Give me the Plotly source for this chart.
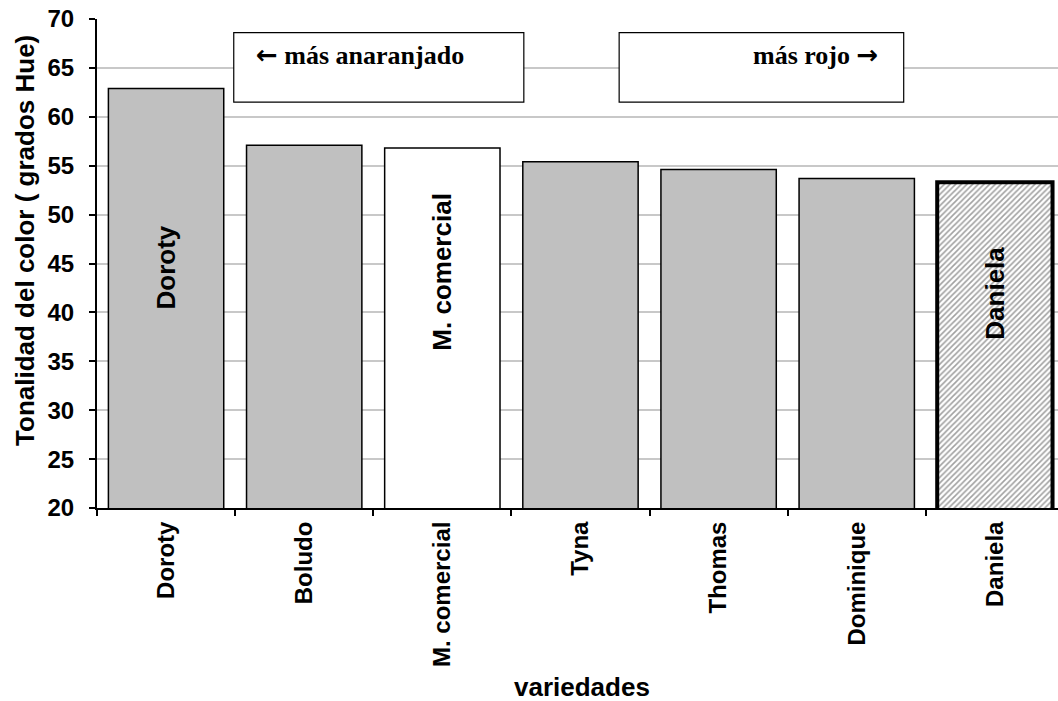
import plotly.graph_objects as go

categories = ["Doroty", "Boludo", "M. comercial", "Tyna", "Thomas", "Dominique", "Daniela"]
hue_values = [62.9, 57.1, 56.8, 55.4, 54.6, 53.7, 53.3]
inner_labels = ["Doroty", "", "M. comercial", "", "", "", "Daniela"]
inner_label_y = [44.6, None, 44.2, None, None, None, 42.0]
y_ticks = [20, 25, 30, 35, 40, 45, 50, 55, 60, 65, 70]

x_idx = list(range(len(categories)))
FONT = "Arial, Liberation Sans, sans-serif"
SERIF = "Times New Roman, Liberation Serif, serif"

fill_colors = ["#c0c0c0", "#c0c0c0", "#ffffff", "#c0c0c0", "#c0c0c0", "#c0c0c0", "#ffffff"]
line_widths = [1.5, 1.5, 1.5, 1.5, 1.5, 1.5, 4]
shapes_pat = ["", "", "", "", "", "", "/"]

fig = go.Figure()
fig.add_trace(go.Bar(
    x=x_idx, y=hue_values, width=0.835,
    marker=dict(color=fill_colors, line=dict(color="black", width=line_widths),
                pattern=dict(shape=shapes_pat, fgcolor="#8c8c8c", bgcolor="#ffffff",
                             size=4, solidity=0.4)),
    showlegend=False, hoverinfo="skip",
))
# invisible trace to activate the boundary-tick axis
fig.add_trace(go.Scatter(x=[-0.5], y=[20], xaxis="x2", mode="markers",
                         marker=dict(opacity=0), showlegend=False, hoverinfo="skip"))

for i, (lab, ly) in enumerate(zip(inner_labels, inner_label_y)):
    if lab:
        fig.add_annotation(x=i, y=ly, text=lab, textangle=-90,
                           xanchor="center", yanchor="middle", showarrow=False,
                           font=dict(family=FONT, size=26, color="black", weight="bold"))

# text boxes
fig.add_shape(type="rect", x0=0.49, x1=2.59, y0=61.5, y1=68.6, xref="x", yref="y",
              line=dict(color="black", width=1.2), fillcolor="white", layer="above")
fig.add_shape(type="rect", x0=3.28, x1=5.34, y0=61.5, y1=68.6, xref="x", yref="y",
              line=dict(color="black", width=1.2), fillcolor="white", layer="above")
ARROW = '<span style="font-family:DejaVu Sans">%s</span>'
fig.add_annotation(x=0.64, y=66.3, text=(ARROW % "\u2190") + " más anaranjado", xanchor="left",
                   showarrow=False,
                   font=dict(family=SERIF, size=26, color="black", weight="bold"))
fig.add_annotation(x=5.17, y=66.3, text="más rojo " + (ARROW % "\u2192"), xanchor="right",
                   showarrow=False,
                   font=dict(family=SERIF, size=26, color="black", weight="bold"))

# axis titles
fig.add_annotation(x=0.505, y=-0.367, xref="paper", yref="paper", text="variedades",
                   xanchor="center", yanchor="middle", showarrow=False,
                   font=dict(family=FONT, size=26, color="black", weight="bold"))
fig.add_annotation(x=-0.075, y=0.548, xref="paper", yref="paper",
                   text="Tonalidad del color ( grados Hue)", textangle=-90,
                   xanchor="center", yanchor="middle", showarrow=False,
                   font=dict(family=FONT, size=26, color="black", weight="bold"))

xr = [-0.5, 6.457]
fig.update_layout(
    width=1058, height=701,
    margin=dict(l=97, r=0, t=19, b=193, autoexpand=False),
    plot_bgcolor="white", paper_bgcolor="white",
    font=dict(family=FONT, color="black"),
    xaxis=dict(
        range=xr, tickmode="array", tickvals=x_idx, ticktext=categories,
        tickangle=-90, ticks="outside", ticklen=2, tickcolor="rgba(0,0,0,0)",
        tickfont=dict(family=FONT, size=24, color="black", weight="bold"),
        showline=True, linecolor="black", linewidth=2, showgrid=False, zeroline=False,
        automargin=False,
    ),
    xaxis2=dict(
        range=xr, overlaying="x", anchor="y", side="bottom",
        tickmode="array", tickvals=[i - 0.5 for i in range(len(categories) + 1)],
        ticks="outside", ticklen=7, tickwidth=1.5, tickcolor="black",
        showticklabels=False, showgrid=False, showline=False, zeroline=False,
        automargin=False,
    ),
    yaxis=dict(
        range=[20, 70], tickmode="array", tickvals=y_ticks,
        ticks="outside", ticklen=6, tickwidth=1.5, tickcolor="black",
        tickfont=dict(family=FONT, size=24, color="black", weight="bold"),
        ticklabelstandoff=10,
        showline=True, linecolor="black", linewidth=2,
        showgrid=True, gridcolor="#c8c8c8", gridwidth=1.5, zeroline=False,
        automargin=False,
    ),
)

fig.write_html("out.html", config={"displayModeBar": False},
               post_script="document.body.style.margin='0';document.body.style.overflow='hidden';")
